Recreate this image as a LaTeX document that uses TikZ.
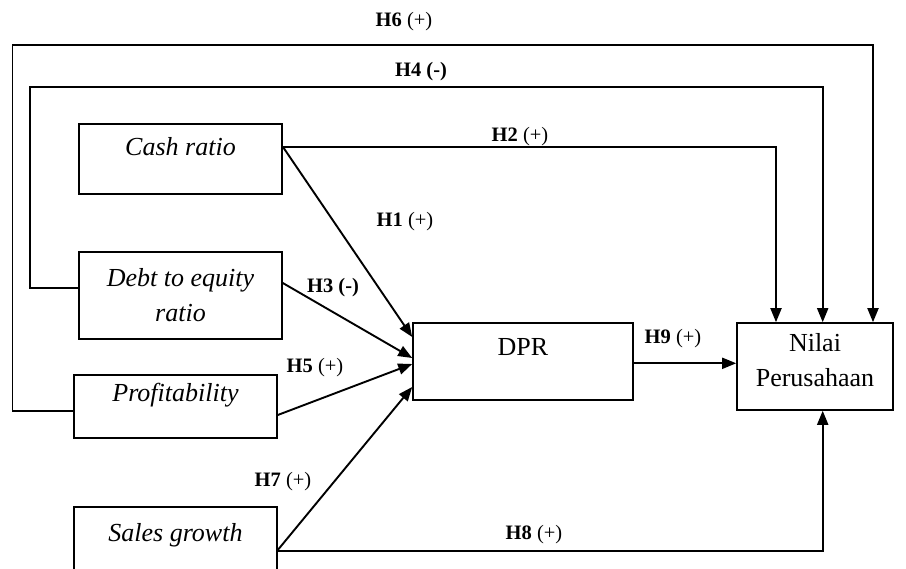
\documentclass[tikz,border=0pt]{standalone}
\usepackage{fontspec}
\setmainfont{Liberation Serif}
\usetikzlibrary{arrows.meta}
\begin{document}
\begin{tikzpicture}[x=1pt,y=-1pt,
  box/.style={draw,line width=1.6pt,rectangle,inner sep=0pt},
  conn/.style={line width=1.9pt},
  arr/.style={conn,-{Triangle[length=14pt,width=11pt]}},
  lab/.style={font=\fontsize{20.5}{24}\selectfont,inner sep=0pt},
  btxt/.style={font=\fontsize{26}{35}\selectfont,align=center}
]
\useasboundingbox (0,0) rectangle (906,569);
\clip (0,0) rectangle (906,569);
% boxes
\node[box,minimum width=203pt,minimum height=70pt,label={[btxt,yshift=12pt]center:\textit{Cash ratio}}] (cash) at (180.5,159) {};
\node[box,minimum width=203pt,minimum height=87pt,label={[btxt]center:\textit{Debt to equity}\\\textit{ratio}}] (debt) at (180.5,295.5) {};
\node[box,minimum width=203pt,minimum height=63pt,label={[btxt,yshift=11pt]center:\textit{Profitability}}] (prof) at (175.5,406.5) {};
\node[box,minimum width=203pt,minimum height=83pt,label={[btxt,yshift=13pt]center:\textit{Sales growth}}] (sales) at (175.5,548.5) {};
\node[box,minimum width=220pt,minimum height=77pt,label={[btxt,yshift=14pt]center:DPR}] (dpr) at (523,361.5) {};
\node[box,minimum width=156pt,minimum height=87pt,label={[btxt,yshift=6pt]center:Nilai\\Perusahaan}] (nilai) at (815,366.5) {};
% connectors
\draw[arr] (prof.west |- 0,410.7) -- (12.5,410.7) -- (12.5,44.7) -- (873,44.7) -- (nilai.north -| 873,0);
\draw[arr] (debt.west |- 0,287.7) -- (30,287.7) -- (30,86.7) -- (822.7,86.7) -- (nilai.north -| 822.7,0);
\draw[arr] (cash.east |- 0,146.7) -- (776,146.7) -- (nilai.north -| 776,0);
\draw[arr] (cash.east |- 0,146.7) -- (dpr.west |- 0,337);
\draw[arr] (debt.east |- 0,283) -- (dpr.west |- 0,358);
\draw[arr] (prof.east |- 0,415) -- (dpr.west |- 0,364);
\draw[arr] (sales.east |- 0,550) -- (dpr.west |- 0,387);
\draw[arr] (sales.east |- 0,550.7) -- (822.7,550.7) -- (nilai.south -| 822.7,0);
\draw[arr] (dpr.east |- 0,363.3) -- (nilai.west |- 0,363.3);
% labels
\node[lab] (l6) at (404,22) {\textbf{H6} (+)};
\node[lab] (l4) at (421,72) {\textbf{H4 (-)}};
\node[lab] (l2) at (520,137) {\textbf{H2} (+)};
\node[lab] (l1) at (405,222) {\textbf{H1} (+)};
\node[lab] (l3) at (333,288) {\textbf{H3 (-)}};
\node[lab] (l5) at (315,368) {\textbf{H5} (+)};
\node[lab] (l7) at (283,482) {\textbf{H7} (+)};
\node[lab] (l8) at (534,535) {\textbf{H8} (+)};
\node[lab] (l9) at (673,339) {\textbf{H9} (+)};
\end{tikzpicture}
\end{document}
